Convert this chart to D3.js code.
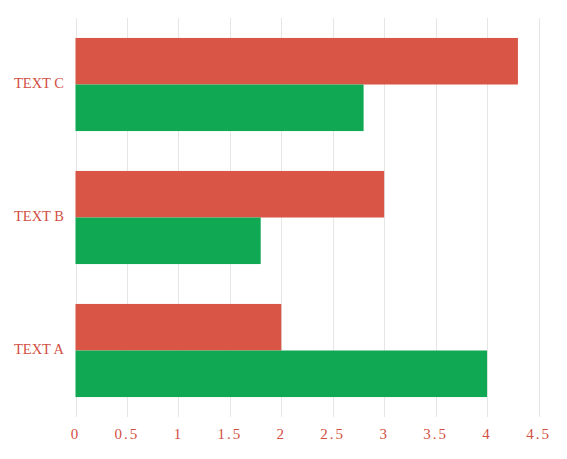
<!DOCTYPE html>
<html><head><meta charset="utf-8">
<script src="https://cdn.jsdelivr.net/npm/d3@7"></script>
<style>body{margin:0;background:#fff}</style>
</head><body>
<script>
const categories = ["TEXT A", "TEXT B", "TEXT C"];
const seriesRed = [2, 3, 4.3];
const seriesGreen = [4, 1.8, 2.8];
const xTicks = [0, 0.5, 1, 1.5, 2, 2.5, 3, 3.5, 4, 4.5];

const W = 567, H = 459;
const m = {left: 75.5, right: 28.5, top: 18, bottom: 42};
const svg = d3.select("body").append("svg").attr("width", W).attr("height", H);
const x = d3.scaleLinear().domain([0, 4.5]).range([m.left, m.left + 463]);
const y = d3.scaleBand().domain(categories.slice().reverse()).range([m.top, H - m.bottom]).paddingInner(0.3).paddingOuter(0.15);

// grid
svg.append("g").selectAll("line").data(xTicks).join("line")
  .attr("x1", d => Math.round(x(d)) + 0.5).attr("x2", d => Math.round(x(d)) + 0.5)
  .attr("y1", m.top).attr("y2", H - m.bottom)
  .attr("stroke", "#e6e6e6").attr("stroke-width", 1);

const bh = y.bandwidth() / 2;
svg.append("g").selectAll("rect").data(categories).join("rect")
  .attr("x", x(0)).attr("y", d => y(d))
  .attr("width", (d, i) => x(seriesRed[i]) - x(0)).attr("height", bh)
  .attr("fill", "#d95545");
svg.append("g").selectAll("rect").data(categories).join("rect")
  .attr("x", x(0)).attr("y", d => y(d) + bh)
  .attr("width", (d, i) => x(seriesGreen[i]) - x(0)).attr("height", bh)
  .attr("fill", "#10a853");

const font = "'Liberation Serif', 'DejaVu Serif', serif";
svg.append("g").selectAll("text").data(categories).join("text")
  .attr("x", 64).attr("y", d => y(d) + y.bandwidth() / 2 - 1.5)
  .attr("text-anchor", "end").attr("dominant-baseline", "central")
  .attr("font-family", font).attr("font-size", 14.5)
  .attr("fill", "#d24f43")
  .text(d => d);

svg.append("g").selectAll("text").data(xTicks).join("text")
  .attr("x", d => x(d)).attr("y", 434)
  .attr("text-anchor", "middle").attr("dominant-baseline", "central")
  .attr("font-family", font).attr("font-size", 15).attr("letter-spacing", 2)
  .attr("fill", "#d24f43")
  .text(d => d);
</script>
</body></html>
